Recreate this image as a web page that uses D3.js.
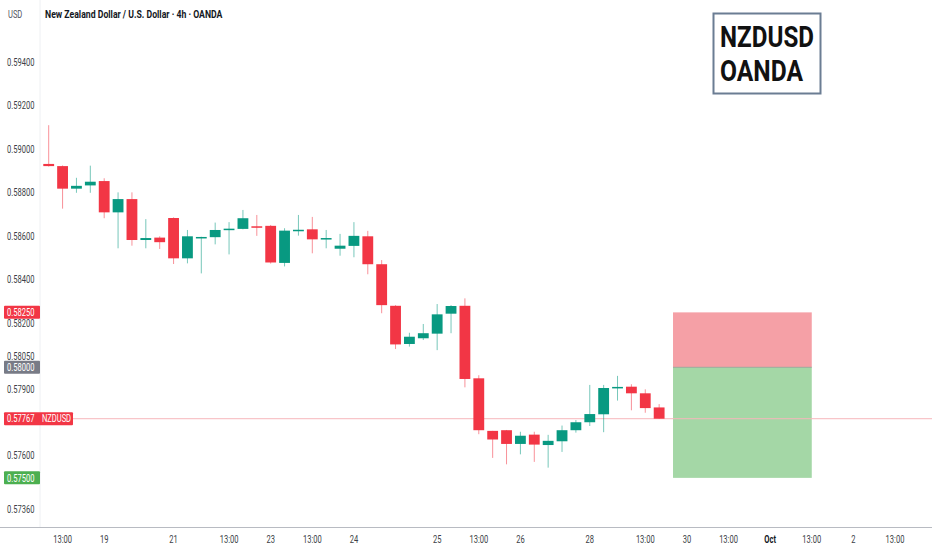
<!DOCTYPE html>
<html>
<head>
<meta charset="utf-8">
<script src="https://cdn.jsdelivr.net/npm/d3@7"></script>
<style>
  body { margin: 0; background: #fff; }
  svg { display: block; }
  text { font-family: "Roboto", "DejaVu Sans", sans-serif; white-space: pre; }
</style>
</head>
<body>
<div id="chart"></div>
<script>
// 4h candles, NZDUSD (OANDA), one entry per bar
const opens  = [0.58931, 0.58921, 0.58817, 0.58832, 0.58852, 0.58708, 0.58769, 0.58581, 0.58592, 0.58682,
                0.58497, 0.58592, 0.58594, 0.58627, 0.58632, 0.58644, 0.58646, 0.58476, 0.58626, 0.58630,
                0.58588, 0.58541, 0.58554, 0.58598, 0.58470, 0.58280, 0.58106, 0.58132, 0.58153, 0.58244,
                0.58280, 0.57950, 0.57712, 0.57715, 0.57653, 0.57695, 0.57648, 0.57665, 0.57715, 0.57751,
                0.57787, 0.57908, 0.57912, 0.57882, 0.57818];
const highs  = [0.59110, 0.58924, 0.58867, 0.58923, 0.58865, 0.58800, 0.58800, 0.58677, 0.58598, 0.58685,
                0.58627, 0.58596, 0.58661, 0.58663, 0.58719, 0.58696, 0.58650, 0.58635, 0.58696, 0.58687,
                0.58627, 0.58609, 0.58663, 0.58623, 0.58489, 0.58283, 0.58157, 0.58197, 0.58288, 0.58283,
                0.58314, 0.57964, 0.57712, 0.57716, 0.57708, 0.57708, 0.57694, 0.57736, 0.57761, 0.57920,
                0.57920, 0.57961, 0.57923, 0.57900, 0.57833];
const lows   = [0.58919, 0.58725, 0.58798, 0.58798, 0.58681, 0.58543, 0.58555, 0.58543, 0.58540, 0.58471,
                0.58474, 0.58428, 0.58561, 0.58515, 0.58630, 0.58600, 0.58473, 0.58460, 0.58601, 0.58520,
                0.58543, 0.58509, 0.58502, 0.58424, 0.58246, 0.58083, 0.58094, 0.58124, 0.58078, 0.58155,
                0.57909, 0.57697, 0.57590, 0.57561, 0.57606, 0.57572, 0.57546, 0.57617, 0.57704, 0.57734,
                0.57706, 0.57849, 0.57805, 0.57794, 0.57767];
const closes = [0.58921, 0.58817, 0.58830, 0.58849, 0.58708, 0.58769, 0.58581, 0.58590, 0.58571, 0.58497,
                0.58598, 0.58595, 0.58627, 0.58633, 0.58681, 0.58641, 0.58478, 0.58624, 0.58628, 0.58584,
                0.58590, 0.58555, 0.58600, 0.58470, 0.58283, 0.58104, 0.58139, 0.58155, 0.58241, 0.58279,
                0.57947, 0.57715, 0.57673, 0.57653, 0.57690, 0.57650, 0.57667, 0.57715, 0.57751, 0.57788,
                0.57906, 0.57911, 0.57882, 0.57815, 0.57767];

// price axis labels (log scale)
const priceTicks = [0.594, 0.592, 0.590, 0.588, 0.586, 0.584, 0.582, 0.5805, 0.579, 0.576, 0.5736];

// time axis labels, placed on bar index
const timeIdx    = [1, 4, 9, 13, 16, 19, 22, 28, 31, 34, 39, 43, 46, 49, 52, 55, 58, 61];
const timeLabels = ['13:00', '19', '21', '13:00', '23', '13:00', '24', '25', '13:00', '26',
                    '28', '13:00', '30', '13:00', 'Oct', '13:00', '2', '13:00'];

// long position tool
const entry = 0.58000, stop = 0.58250, target = 0.57500;
const posStart = 45, posEnd = 55;
const lastPrice = 0.57767;

const W = 932, H = 550;
const up = '#089981', down = '#F23645';
// the platform font is narrow, squeeze the small labels horizontally
const squeeze = 0.72;

const svg = d3.select('#chart').append('svg')
  .attr('width', W)
  .attr('height', H);

// scales
const x = d3.scaleLinear().domain([0, 61]).range([48.7, 895]);
const y = d3.scaleLog().domain([0.5736, 0.594]).range([509, 62.7]);
const step = x(1) - x(0);
const bodyW = step * 0.78;

const candles = opens.map((o, i) => ({
  i: i, o: o, h: highs[i], l: lows[i], c: closes[i]
}));

/* Small narrow text placed at (tx, ty)
*/
function label(parent, tx, ty, str, opts={}) {
  return parent.append('text')
    .attr('transform', `translate(${tx},${ty}) scale(${opts.sx || squeeze},1)`)
    .attr('dy', '0.35em')
    .attr('text-anchor', opts.anchor || 'start')
    .attr('font-size', opts.size || 10.5)
    .attr('font-weight', opts.weight || 'normal')
    .attr('fill', opts.fill || '#3c3f47')
    .text(str);
}

// axis frame
svg.append('line')
  .attr('x1', 40).attr('x2', 40)
  .attr('y1', 0).attr('y2', 527)
  .attr('stroke', '#eef0f3');
svg.append('line')
  .attr('x1', 0).attr('x2', W)
  .attr('y1', 527.5).attr('y2', 527.5)
  .attr('stroke', '#b8bbc2')
  .attr('stroke-width', 1);

// position box
const pos = svg.append('g').attr('class', 'position');
pos.append('rect')
  .attr('x', x(posStart)).attr('width', x(posEnd) - x(posStart))
  .attr('y', y(stop)).attr('height', y(entry) - y(stop))
  .attr('fill', '#f5a0a6');
pos.append('rect')
  .attr('x', x(posStart)).attr('width', x(posEnd) - x(posStart))
  .attr('y', y(entry)).attr('height', y(target) - y(entry))
  .attr('fill', '#a4d7a6');
pos.append('line')
  .attr('x1', x(posStart)).attr('x2', x(posEnd))
  .attr('y1', y(entry)).attr('y2', y(entry))
  .attr('stroke', '#9aa89a')
  .attr('stroke-width', 1);

// last price line
svg.append('line')
  .attr('x1', 40).attr('x2', W)
  .attr('y1', y(lastPrice)).attr('y2', y(lastPrice))
  .attr('stroke', '#f7b6bb')
  .attr('stroke-width', 1);

// candles
const bars = svg.append('g').attr('class', 'candles')
  .selectAll('g')
  .data(candles)
  .join('g');

bars.append('line')
  .attr('x1', d => x(d.i)).attr('x2', d => x(d.i))
  .attr('y1', d => y(d.h)).attr('y2', d => y(d.l))
  .attr('stroke', d => d.c >= d.o ? up : down)
  .attr('stroke-opacity', 0.55)
  .attr('stroke-width', 1);

bars.append('rect')
  .attr('x', d => x(d.i) - bodyW / 2)
  .attr('width', bodyW)
  .attr('y', d => y(Math.max(d.o, d.c)))
  .attr('height', d => Math.max(1.5, Math.abs(y(d.o) - y(d.c))))
  .attr('fill', d => d.c >= d.o ? up : down);

// price axis labels
const yAxis = svg.append('g').attr('class', 'y-axis');
priceTicks.forEach(v => label(yAxis, 7, y(v), d3.format('.5f')(v)));

// price flags on the axis
function flag(v, color, str, w) {
  const g = svg.append('g');
  g.append('rect')
    .attr('x', 4).attr('y', y(v) - 6.5)
    .attr('width', w).attr('height', 13)
    .attr('rx', 1)
    .attr('fill', color);
  label(g, 7, y(v), str, {fill: '#fff'});
}
flag(stop, '#F23645', d3.format('.5f')(stop), 36);
flag(entry, '#787B86', d3.format('.5f')(entry), 36);
flag(target, '#4CAF50', d3.format('.5f')(target), 36);
flag(lastPrice, '#F23645', d3.format('.5f')(lastPrice) + '    NZDUSD', 69);

// time axis labels
const xAxis = svg.append('g').attr('class', 'x-axis');
timeIdx.forEach((d, i) => {
  const isMonth = timeLabels[i] === 'Oct';
  label(xAxis, x(d), 539, timeLabels[i], {
    anchor: 'middle',
    weight: isMonth ? 'bold' : 'normal',
    fill: isMonth ? '#131722' : '#3c3f47'
  });
});

// header
label(svg, 8, 14, 'USD', {fill: '#50535e'});
label(svg, 45, 14, 'New Zealand Dollar / U.S. Dollar \u00b7 4h \u00b7 OANDA',
      {size: 11, weight: 'bold', fill: '#131722', sx: 0.79});

// symbol note box
const note = svg.append('g');
note.append('rect')
  .attr('x', 713.5).attr('y', 13.5)
  .attr('width', 107).attr('height', 80)
  .attr('fill', '#fff')
  .attr('stroke', '#6b7d93')
  .attr('stroke-width', 2);
note.append('text')
  .attr('x', 720).attr('y', 47)
  .attr('font-size', 30)
  .attr('font-weight', 'bold')
  .attr('fill', '#111')
  .attr('textLength', 94)
  .attr('lengthAdjust', 'spacingAndGlyphs')
  .text('NZDUSD');
note.append('text')
  .attr('x', 720).attr('y', 81)
  .attr('font-size', 30)
  .attr('font-weight', 'bold')
  .attr('fill', '#111')
  .attr('textLength', 83)
  .attr('lengthAdjust', 'spacingAndGlyphs')
  .text('OANDA');
</script>
</body>
</html>
